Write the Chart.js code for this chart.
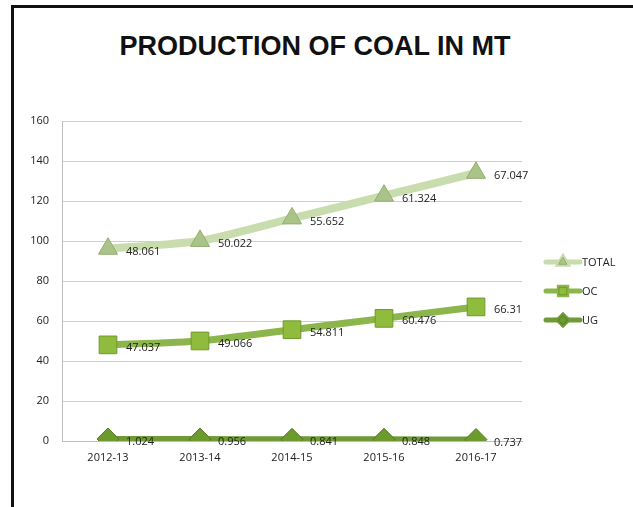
<!DOCTYPE html>
<html>
<head>
<meta charset="utf-8">
<script src="https://cdn.jsdelivr.net/npm/chart.js@4/dist/chart.umd.min.js"></script>
<style>
  html, body { margin: 0; padding: 0; background: #fff; }
  #wrap { position: relative; width: 633px; height: 507px; }
  #frame { position: absolute; left: 11px; top: 5px; right: 0; bottom: 0;
           border-left: 3px solid #111; border-top: 3px solid #111; }
  #title { position: absolute; left: 0; width: 630px; top: 31px; text-align: center;
           font: bold 27px "Liberation Sans", Arial, sans-serif; color: #111; }
  #myChart { position: absolute; left: 0; top: 0; }
</style>
</head>
<body>
<div id="wrap">
  <div id="frame"></div>
  <div id="title">PRODUCTION OF COAL IN MT</div>
  <canvas id="myChart" width="633" height="507"></canvas>
</div>
<script>
// data start
const years = ['2012-13', '2013-14', '2014-15', '2015-16', '2016-17'];
const ugValues = [1.024, 0.956, 0.841, 0.848, 0.737];
const ocValues = [47.037, 49.066, 54.811, 60.476, 66.31];
const totalValues = [48.061, 50.022, 55.652, 61.324, 67.047];
const yTicks = [0, 20, 40, 60, 80, 100, 120, 140, 160];
// data end

const labelFont = '11px "Open Sans", sans-serif';

// value labels next to each point
const valueLabels = {
  id: 'valueLabels',
  afterDatasetsDraw(chart) {
    const ctx = chart.ctx;
    ctx.save();
    ctx.font = labelFont;
    ctx.fillStyle = '#222';
    ctx.textBaseline = 'middle';
    chart.data.datasets.forEach((ds, i) => {
      const meta = chart.getDatasetMeta(i);
      meta.data.forEach((pt, j) => {
        ctx.fillText(String(ds.data[j]), pt.x + 18, pt.y + 3);
      });
    });
    ctx.restore();
  }
};

// legend on the right: line + marker + name
const sideLegend = {
  id: 'sideLegend',
  afterDraw(chart) {
    const ctx = chart.ctx;
    const order = [2, 1, 0];
    const x0 = chart.chartArea.right + 24;
    let y = 262;
    ctx.save();
    order.forEach(i => {
      const ds = chart.data.datasets[i];
      ctx.strokeStyle = ds.borderColor;
      ctx.lineWidth = 5;
      ctx.lineCap = 'round';
      ctx.beginPath();
      ctx.moveTo(x0, y);
      ctx.lineTo(x0 + 34, y);
      ctx.stroke();
      Chart.helpers.drawPoint(ctx, {
        pointStyle: ds.pointStyle,
        radius: ds.pointRadius * 0.42,
        borderWidth: 1
      }, x0 + 17, y);
      ctx.fillStyle = ds.pointBackgroundColor;
      ctx.strokeStyle = ds.pointBorderColor;
      ctx.lineWidth = 1;
      ctx.fill();
      ctx.stroke();
      ctx.font = labelFont;
      ctx.fillStyle = '#222';
      ctx.textBaseline = 'middle';
      ctx.fillText(ds.label, x0 + 36, y + 1);
      y += 29;
    });
    ctx.restore();
  }
};

const data = {
  labels: years,
  datasets: [
    {
      label: 'UG',
      data: ugValues,
      borderColor: '#6f9a36',
      borderWidth: 6,
      tension: 0.2,
      pointStyle: 'rectRot',
      pointRadius: 11,
      pointBackgroundColor: '#6c9a2c',
      pointBorderColor: '#557a22',
      pointBorderWidth: 1
    },
    {
      label: 'OC',
      data: ocValues,
      borderColor: '#8cb54c',
      borderWidth: 7,
      tension: 0.2,
      pointStyle: 'rect',
      pointRadius: 12.5,
      pointBackgroundColor: '#8fbc3c',
      pointBorderColor: '#6f9a2a',
      pointBorderWidth: 1
    },
    {
      label: 'TOTAL',
      data: totalValues,
      borderColor: '#c9dcae',
      borderWidth: 8,
      tension: 0.2,
      pointStyle: 'triangle',
      pointRadius: 11,
      pointBackgroundColor: '#a9c389',
      pointBorderColor: '#92ae70',
      pointBorderWidth: 1
    }
  ]
};

const config = {
  type: 'line',
  data: data,
  options: {
    responsive: false,
    animation: false,
    layout: { padding: { left: 0, right: 111, top: 121, bottom: 36 } },
    plugins: {
      legend: { display: false },
      tooltip: { enabled: false }
    },
    scales: {
      x: {
        offset: true,
        grid: { display: false, drawTicks: false },
        border: { color: '#bdbdbd' },
        ticks: { color: '#222', font: { family: '"Open Sans", sans-serif', size: 11 }, padding: 10 },
        afterFit(scale) { scale.height = 30; }
      },
      y: {
        stacked: true,
        min: 0,
        max: 160,
        afterBuildTicks(scale) { scale.ticks = yTicks.map(v => ({ value: v })); },
        grid: { color: '#cfcfcf', drawTicks: false },
        border: { color: '#bdbdbd' },
        ticks: { color: '#222', font: { family: '"Open Sans", sans-serif', size: 11 }, padding: 13 },
        afterFit(scale) { scale.width = 62; }
      }
    }
  },
  plugins: [valueLabels, sideLegend]
};

const myChart = new Chart(document.getElementById('myChart'), config);
</script>
</body>
</html>
